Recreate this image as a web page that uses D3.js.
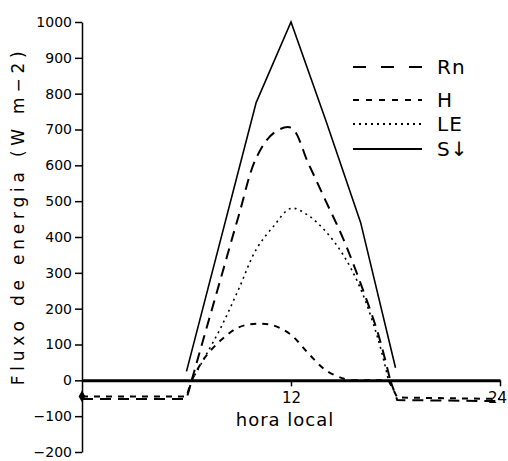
<!DOCTYPE html>
<html><head><meta charset="utf-8">
<script src="https://cdn.jsdelivr.net/npm/d3@7"></script>
<style>body{margin:0;background:#fff} svg{display:block}</style>
</head><body><svg id="c" width="508" height="461"></svg>
<script>
// ---- data ----
const seriesNames = ["Rn", "H", "LE", "S\u2193"];
const rnHours  = [0, 6, 6.3, 7, 8, 9, 10, 11, 12, 13, 14, 15, 16, 17, 17.7, 18.1, 24];
const rnValues = [-52, -52, 0, 120, 290, 460, 620, 690, 705, 605, 500, 395, 270, 130, 0, -55, -58];
const hHours   = [0, 6, 6.3, 7, 8, 9, 10, 11, 12, 13, 14, 15, 15.5, 17.6, 18.1, 24];
const hValues  = [-45, -45, 0, 60, 113, 148, 158, 153, 127, 75, 28, 5, 0, 0, -48, -52];
const leHours  = [6.3, 7, 8, 9, 10, 11, 12, 13, 14, 15, 16, 17, 17.6];
const leValues = [0, 60, 150, 255, 365, 430, 480, 460, 415, 350, 255, 115, 0];
const sHours   = [6, 10, 12, 14, 16, 18];
const sValues  = [25, 775, 1000, 725, 440, 35];
const yTicks = [-200, -100, 0, 100, 200, 300, 400, 500, 600, 700, 800, 900, 1000];
const xTicks = [12, 24];
const yTitle = "Fluxo de energia (W m\u22122)";
const xTitle = "hora local";

// ---- chart ----
const svg = d3.select("#c");
const font = "DejaVu Sans, sans-serif";
const x = d3.scaleLinear().domain([0, 24]).range([82, 500]);
const y = d3.scaleLinear().domain([-200, 1000]).range([452, 22]);

// y axis
const ya = svg.append("g").attr("transform", `translate(${x(0)},0)`)
  .call(d3.axisLeft(y).tickValues(yTicks).tickSize(7).tickSizeOuter(0).tickPadding(3)
    .tickFormat(d => d < 0 ? "\u2212" + Math.abs(d) : d));
ya.select(".domain").attr("stroke", "#000").attr("stroke-width", 1.5);
ya.selectAll(".tick line").attr("stroke", "#000").attr("stroke-width", 1.5);
ya.selectAll(".tick text").attr("font-family", font).attr("font-size", 14).attr("fill", "#000");

// x axis (along zero)
const xa = svg.append("g").attr("transform", `translate(0,${y(0)})`)
  .call(d3.axisBottom(x).tickValues(xTicks).tickSize(6).tickSizeOuter(0).tickPadding(6));
xa.select(".domain").attr("stroke", "#000").attr("stroke-width", 3);
xa.selectAll(".tick line").attr("stroke", "#000").attr("stroke-width", 1.5);
xa.selectAll(".tick text").attr("font-family", font).attr("font-size", 15).attr("fill", "#000")
  .attr("dx", d => d === 24 ? -3 : 0);

// titles
svg.append("text").attr("transform", `translate(24,${(y(-40)+y(1000))/2 + 10}) rotate(-90)`)
  .attr("text-anchor", "middle").attr("font-family", font).attr("font-size", 17)
  .attr("textLength", 334).attr("lengthAdjust", "spacing").text(yTitle);
svg.append("text").attr("x", 285).attr("y", 426).attr("text-anchor", "middle")
  .attr("font-family", font).attr("font-size", 18).attr("letter-spacing", 1).text(xTitle);

// lines
const styles = [
  {dash: "11,7", w: 2},
  {dash: "6,6", w: 2},
  {dash: "2,4", w: 1.6},
  {dash: null, w: 1.6}
];
const series = [
  {h: rnHours, v: rnValues, smooth: true},
  {h: hHours, v: hValues, smooth: true},
  {h: leHours, v: leValues, smooth: true},
  {h: sHours, v: sValues, smooth: false}
];
const lineSmooth = d3.line().x(d => x(d[0])).y(d => y(d[1])).curve(d3.curveCatmullRom.alpha(0.5));
const lineStraight = d3.line().x(d => x(d[0])).y(d => y(d[1]));
series.forEach((s, i) => {
  const pts = s.h.map((h, j) => [h, s.v[j]]);
  // split at zero-valued points: daytime (positive) arcs smooth, night parts straight
  const segs = [];
  let cur = [pts[0]];
  for (let j = 1; j < pts.length; j++) {
    cur.push(pts[j]);
    if (pts[j][1] === 0 && j < pts.length - 1) { segs.push(cur); cur = [pts[j]]; }
  }
  if (cur.length > 1) segs.push(cur);
  const g = svg.append("g");
  segs.forEach(seg => {
    const positive = seg.some(p => p[1] > 0);
    g.append("path").datum(seg)
      .attr("fill", "none").attr("stroke", "#000")
      .attr("stroke-width", styles[i].w)
      .attr("stroke-dasharray", styles[i].dash)
      .attr("d", (s.smooth && positive ? lineSmooth : lineStraight)(seg));
  });
});

// small diamond marker on the y axis
svg.append("path").attr("d", d3.symbol().type(d3.symbolDiamond).size(40)())
  .attr("transform", `translate(${x(0)},${y(-45)})`).attr("fill", "#000");

// legend
const lg = svg.append("g");
const legY = [67, 100, 124, 149];
seriesNames.forEach((n, i) => {
  lg.append("line").attr("x1", 353).attr("x2", 422).attr("y1", legY[i]).attr("y2", legY[i])
    .attr("stroke", "#000").attr("stroke-width", i === 3 ? 2 : 2.2)
    .attr("stroke-dasharray", i === 0 ? "13,15" : i === 1 ? "6,7" : styles[i].dash);
  lg.append("text").attr("x", 437).attr("y", legY[i]).attr("dy", "0.36em")
    .attr("font-family", font).attr("font-size", 20).attr("letter-spacing", 1).text(n);
});
</script></body></html>
